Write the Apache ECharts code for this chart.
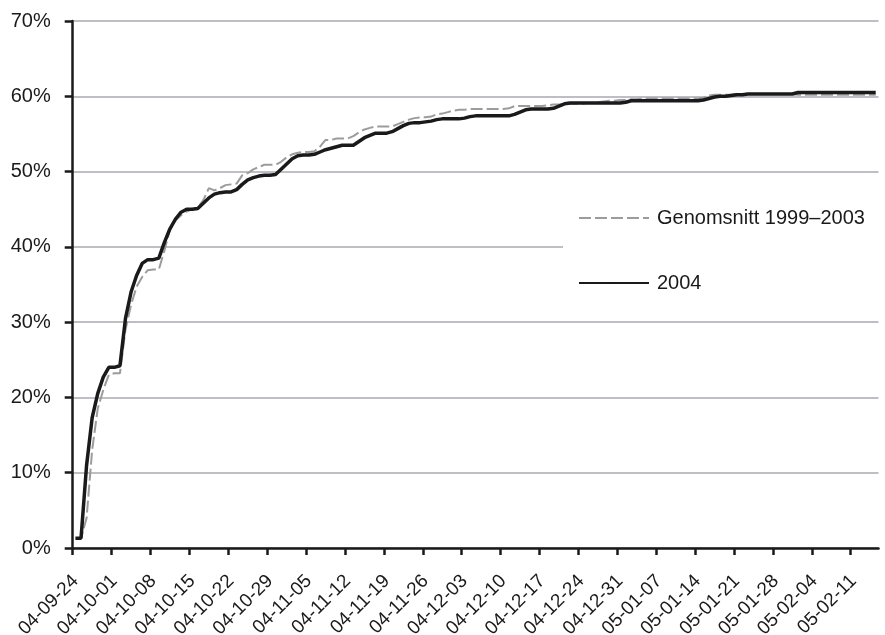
<!DOCTYPE html>
<html>
<head>
<meta charset="utf-8">
<script src="https://cdn.jsdelivr.net/npm/echarts@6/dist/echarts.min.js"></script>
<style>
  html, body { margin: 0; padding: 0; background: #fff; }
  #chart { width: 885px; height: 635px; }
</style>
</head>
<body>
<div id="chart"></div>
<script>
// ---- Data ----
const startDate = [2004, 9, 24];   // first day 04-09-24
const dayCount = 145;              // daily values 04-09-24 .. 05-02-15
const labelEvery = 7;              // a tick label every 7 days
const seriesNames = ['Genomsnitt 1999–2003', '2004'];

const avg9903 = [
  1.3, 1.3, 4, 13, 18.5, 21, 23, 23.2, 23.2, 29,
  32.3, 34.7, 36, 36.9, 37, 37, 39.5, 42.3, 43.5, 44.2,
  44.7, 45.0, 45.2, 46.2, 47.8, 47.5, 47.8, 48.2, 48.3, 48.4,
  49.5, 49.8, 50.3, 50.6, 50.9, 50.9, 50.9, 51.3, 51.9, 52.3,
  52.5, 52.6, 52.6, 52.7, 53.3, 54.2, 54.2, 54.4, 54.4, 54.4,
  54.7, 55.2, 55.6, 55.8, 56.0, 56.0, 56.0, 56.0, 56.3, 56.6,
  56.9, 57.1, 57.2, 57.2, 57.3, 57.6, 57.7, 57.9, 58.1, 58.2,
  58.2, 58.3, 58.3, 58.3, 58.3, 58.3, 58.3, 58.3, 58.4, 58.7,
  58.7, 58.7, 58.7, 58.7, 58.7, 58.8, 58.9, 58.9, 59.0, 59.0,
  59.0, 59.0, 59.1, 59.1, 59.2, 59.3, 59.4, 59.4, 59.5, 59.5,
  59.6, 59.6, 59.7, 59.7, 59.7, 59.7, 59.7, 59.7, 59.7, 59.7,
  59.7, 59.7, 59.7, 59.8, 60.1, 60.2, 60.2, 60.2, 60.2, 60.3,
  60.3, 60.3, 60.3, 60.3, 60.3, 60.3, 60.3, 60.3, 60.3, 60.3,
  60.2, 60.2, 60.2, 60.2, 60.2, 60.2, 60.2, 60.2, 60.2, 60.2,
  60.2, 60.2, 60.2, 60.2, 60.2
];

const year2004 = [
  1.3, 1.3, 11, 17.3, 20.5, 22.7, 24, 24, 24.2, 30.5,
  34, 36.2, 37.8, 38.3, 38.3, 38.5, 40.6, 42.4, 43.7, 44.6,
  45.0, 45.0, 45.1, 45.8, 46.5, 47.0, 47.2, 47.3, 47.3, 47.6,
  48.3, 48.9, 49.2, 49.4, 49.5, 49.5, 49.6, 50.3, 51.0, 51.7,
  52.1, 52.2, 52.2, 52.3, 52.6, 52.9, 53.1, 53.3, 53.5, 53.5,
  53.5, 54.0, 54.5, 54.8, 55.1, 55.1, 55.1, 55.3, 55.7, 56.1,
  56.4, 56.5, 56.5, 56.6, 56.7, 56.9, 57.0, 57.0, 57.0, 57.0,
  57.1, 57.3, 57.4, 57.4, 57.4, 57.4, 57.4, 57.4, 57.4, 57.6,
  57.9, 58.2, 58.3, 58.3, 58.3, 58.3, 58.4, 58.7, 59.0, 59.1,
  59.1, 59.1, 59.1, 59.1, 59.1, 59.1, 59.1, 59.1, 59.1, 59.2,
  59.4, 59.4, 59.4, 59.4, 59.4, 59.4, 59.4, 59.4, 59.4, 59.4,
  59.4, 59.4, 59.4, 59.5, 59.7, 59.9, 60.0, 60.0, 60.1, 60.2,
  60.2, 60.3, 60.3, 60.3, 60.3, 60.3, 60.3, 60.3, 60.3, 60.3,
  60.5, 60.5, 60.5, 60.5, 60.5, 60.5, 60.5, 60.5, 60.5, 60.5,
  60.5, 60.5, 60.5, 60.5, 60.5
];

// day labels YY-MM-DD
const pad = n => (n < 10 ? '0' : '') + n;
const categories = [];
{
  const d0 = new Date(Date.UTC(startDate[0], startDate[1] - 1, startDate[2]));
  for (let i = 0; i < dayCount; i++) {
    const d = new Date(d0.getTime() + i * 86400000);
    categories.push(pad(d.getUTCFullYear() % 100) + '-' + pad(d.getUTCMonth() + 1) + '-' + pad(d.getUTCDate()));
  }
}
// tick positions (day boundaries) and label positions (day centres)
const tickDays = [];
const labelDays = [];
for (let i = 0; i < dayCount; i += labelEvery) { tickDays.push(i); labelDays.push(i + 0.5); }

// each day drawn at the centre of its day slot
const toPairs = arr => arr.map((v, i) => [i + 0.5, v]);

// ---- Chart ----
const FONT = "'Liberation Sans', Arial, Helvetica, sans-serif";
const INK = '#1a1a1a';
const chart = echarts.init(document.getElementById('chart'), null, { renderer: 'canvas' });
chart.setOption({
  animation: false,
  backgroundColor: '#ffffff',
  textStyle: { fontFamily: FONT },
  grid: { left: 72.7, right: 6.5, top: 21, bottom: 87, containLabel: false, outerBoundsMode: 'none' },
  legend: {
    orient: 'vertical',
    left: 563,
    top: 188,
    padding: [20, 25, 20, 15],
    backgroundColor: '#ffffff',
    itemWidth: 70,
    itemHeight: 2,
    itemGap: 45,
    textStyle: { fontFamily: FONT, fontSize: 20, color: INK, padding: [0, 0, 0, 3] },
    data: seriesNames
  },
  xAxis: {
    type: 'value',
    min: 0,
    max: dayCount,
    axisLine: { onZero: false, lineStyle: { color: INK, width: 2.5 } },
    axisTick: { show: true, customValues: tickDays, length: 7, lineStyle: { color: INK, width: 2.5 } },
    axisLabel: {
      customValues: labelDays,
      formatter: v => categories[Math.floor(v)] || '',
      rotate: 45, margin: 30, fontSize: 19, color: INK, fontFamily: FONT
    },
    splitLine: { show: false }
  },
  yAxis: {
    type: 'value',
    min: 0,
    max: 70,
    interval: 10,
    axisLine: { show: true, lineStyle: { color: INK, width: 2.5 } },
    axisTick: { show: true, length: 8, lineStyle: { color: INK, width: 2.5 } },
    axisLabel: { formatter: '{value}%', margin: 22, fontSize: 20, color: INK, fontFamily: FONT },
    splitLine: { show: true, lineStyle: { color: '#bdbfc4', width: 2 } }
  },
  series: [
    {
      name: seriesNames[0],
      type: 'line',
      data: toPairs(avg9903),
      symbol: 'none',
      lineStyle: { color: '#9c9c9c', width: 2, type: [12, 4] },
      itemStyle: { color: '#9c9c9c' },
      z: 2
    },
    {
      name: seriesNames[1],
      type: 'line',
      data: toPairs(year2004),
      symbol: 'none',
      lineStyle: { color: INK, width: 3.5 },
      itemStyle: { color: INK },
      z: 3
    }
  ]
});
</script>
</body>
</html>
